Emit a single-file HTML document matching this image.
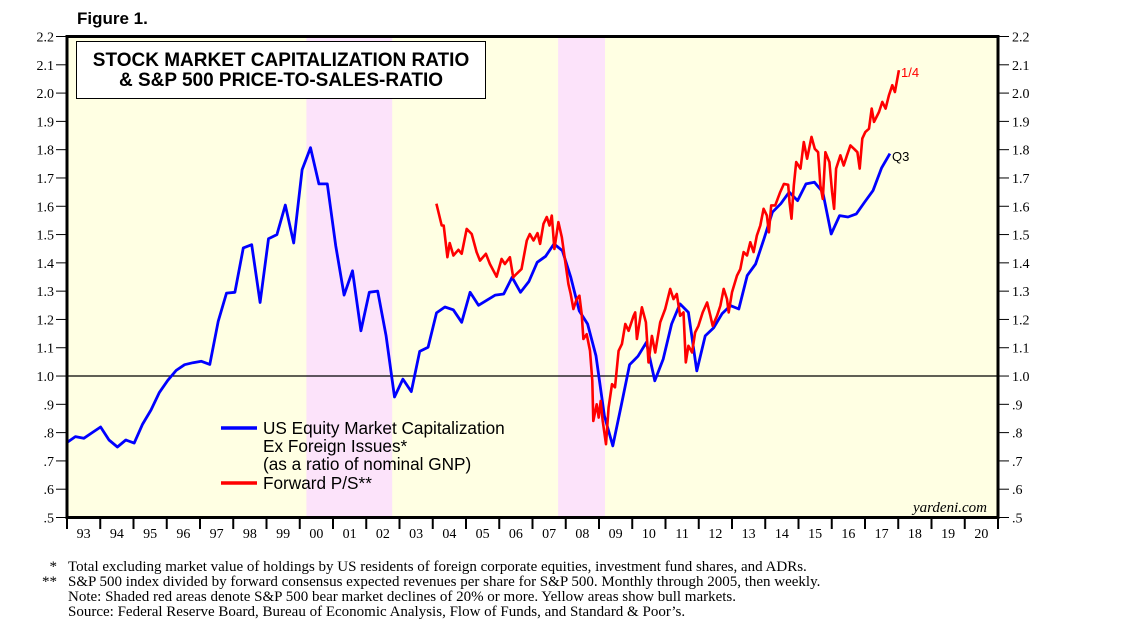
<!DOCTYPE html>
<html><head><meta charset="utf-8"><style>
body{margin:0;background:#fff;width:1138px;height:631px;overflow:hidden}
svg{display:block}
.ser{font-family:"Liberation Serif",serif}
.san{font-family:"Liberation Sans",sans-serif}
</style></head><body>
<svg id="chart" width="1138" height="631" viewBox="0 0 1138 631" xmlns="http://www.w3.org/2000/svg">
<text x="77" y="24" class="san" font-size="17" font-weight="bold">Figure 1.</text>
<g id="plot"></g>
<g id="axes"></g>
<g>
<rect x="76.5" y="41.5" width="409" height="57" fill="#fff" stroke="#000" stroke-width="1"/>
<text x="281" y="66" text-anchor="middle" class="san" font-size="19" font-weight="bold">STOCK MARKET CAPITALIZATION RATIO</text>
<text x="281" y="86" text-anchor="middle" class="san" font-size="19" font-weight="bold">&amp; S&amp;P 500 PRICE-TO-SALES-RATIO</text>
</g>
<g>
<line x1="221" y1="428" x2="257" y2="428" stroke="#0000ff" stroke-width="3.5"/>
<text x="263" y="434" class="san" font-size="17.2">US Equity Market Capitalization</text>
<text x="263" y="452" class="san" font-size="17.2">Ex Foreign Issues*</text>
<text x="263" y="470" class="san" font-size="17.2">(as a ratio of nominal GNP)</text>
<line x1="221" y1="483" x2="257" y2="483" stroke="#ff0000" stroke-width="3.5"/>
<text x="263" y="489" class="san" font-size="17.2">Forward P/S**</text>
</g>
<text x="901" y="77" class="san" font-size="13" fill="#ff0000">1/4</text>
<text x="892" y="161" class="san" font-size="13">Q3</text>
<text x="987" y="512" text-anchor="end" class="ser" font-size="15" font-style="italic">yardeni.com</text>
<g class="ser" font-size="15">
<text x="57" y="571" text-anchor="end">*</text>
<text x="57" y="586" text-anchor="end">**</text>
<text x="68" y="571">Total excluding market value of holdings by US residents of foreign corporate equities, investment fund shares, and ADRs.</text>
<text x="68" y="586">S&amp;P 500 index divided by forward consensus expected revenues per share for S&amp;P 500. Monthly through 2005, then weekly.</text>
<text x="68" y="601">Note: Shaded red areas denote S&amp;P 500 bear market declines of 20% or more. Yellow areas show bull markets.</text>
<text x="68" y="616">Source: Federal Reserve Board, Bureau of Economic Analysis, Flow of Funds, and Standard &amp; Poor’s.</text>
</g>
</svg>
<script>
const yTicks=[0.5,0.6,0.7,0.8,0.9,1.0,1.1,1.2,1.3,1.4,1.5,1.6,1.7,1.8,1.9,2.0,2.1,2.2];
const yTickLabels=[".5",".6",".7",".8",".9","1.0","1.1","1.2","1.3","1.4","1.5","1.6","1.7","1.8","1.9","2.0","2.1","2.2"];
const years=[1993,1994,1995,1996,1997,1998,1999,2000,2001,2002,2003,2004,2005,2006,2007,2008,2009,2010,2011,2012,2013,2014,2015,2016,2017,2018,2019,2020];
const yearLabels=["93","94","95","96","97","98","99","00","01","02","03","04","05","06","07","08","09","10","11","12","13","14","15","16","17","18","19","20"];
const bearStarts=[2000.2,2007.77];
const bearEnds=[2002.78,2009.18];
const blueStart=1993.0;
const blueEnd=2017.75;
const blueValues=[.765,.786,.78,.80,.82,.774,.749,.774,.763,.83,.88,.942,.985,1.02,1.04,1.047,1.052,1.041,1.193,1.293,1.296,1.453,1.464,1.26,1.485,1.50,1.604,1.47,1.729,1.807,1.679,1.679,1.461,1.286,1.372,1.16,1.296,1.30,1.142,.926,.989,.945,1.087,1.102,1.223,1.244,1.234,1.19,1.296,1.25,1.268,1.286,1.29,1.349,1.296,1.334,1.402,1.423,1.467,1.443,1.349,1.231,1.184,1.071,.859,.753,.895,1.04,1.07,1.119,.983,1.06,1.184,1.255,1.225,1.018,1.142,1.17,1.22,1.249,1.237,1.355,1.396,1.485,1.579,1.609,1.65,1.62,1.679,1.685,1.65,1.502,1.567,1.562,1.573,1.615,1.656,1.735,1.786];
const redDates=[2004.11,2004.27,2004.33,2004.44,2004.51,2004.62,2004.77,2004.87,2005.02,2005.17,2005.32,2005.42,2005.60,2005.72,2005.92,2006.07,2006.17,2006.32,2006.42,2006.52,2006.67,2006.83,2006.92,2007.03,2007.15,2007.23,2007.33,2007.43,2007.51,2007.58,2007.66,2007.78,2007.88,2007.98,2008.08,2008.15,2008.23,2008.33,2008.41,2008.48,2008.53,2008.63,2008.73,2008.80,2008.83,2008.93,2008.99,2009.05,2009.11,2009.21,2009.29,2009.39,2009.48,2009.59,2009.69,2009.79,2009.89,2010.04,2010.09,2010.14,2010.29,2010.41,2010.49,2010.59,2010.69,2010.84,2010.99,2011.14,2011.24,2011.34,2011.44,2011.54,2011.61,2011.69,2011.80,2011.89,2011.99,2012.12,2012.25,2012.35,2012.42,2012.55,2012.65,2012.75,2012.85,2012.90,2013.00,2013.15,2013.25,2013.35,2013.45,2013.55,2013.65,2013.75,2013.85,2013.95,2014.05,2014.11,2014.18,2014.30,2014.45,2014.56,2014.69,2014.73,2014.79,2014.86,2014.93,2015.06,2015.16,2015.26,2015.39,2015.49,2015.59,2015.66,2015.73,2015.81,2015.93,2016.01,2016.07,2016.13,2016.26,2016.36,2016.46,2016.56,2016.67,2016.77,2016.84,2016.92,2017.01,2017.12,2017.20,2017.27,2017.42,2017.52,2017.62,2017.72,2017.82,2017.90,2018.02];
const redValues=[1.609,1.532,1.532,1.42,1.47,1.426,1.446,1.432,1.52,1.502,1.438,1.408,1.432,1.396,1.351,1.414,1.396,1.42,1.349,1.361,1.378,1.479,1.502,1.479,1.505,1.467,1.538,1.562,1.532,1.567,1.449,1.544,1.491,1.408,1.325,1.29,1.237,1.272,1.284,1.219,1.131,1.148,1.089,.983,.841,.90,.853,.912,.841,.759,.889,.971,.96,1.089,1.113,1.184,1.16,1.213,1.225,1.131,1.243,1.19,1.048,1.142,1.083,1.19,1.237,1.308,1.272,1.29,1.213,1.225,1.048,1.107,1.083,1.154,1.177,1.225,1.26,1.213,1.177,1.213,1.249,1.308,1.272,1.225,1.296,1.355,1.378,1.438,1.426,1.473,1.438,1.497,1.532,1.591,1.567,1.508,1.603,1.603,1.65,1.679,1.676,1.615,1.556,1.673,1.756,1.733,1.827,1.768,1.845,1.803,1.791,1.673,1.626,1.791,1.756,1.65,1.591,1.733,1.78,1.744,1.78,1.815,1.803,1.791,1.733,1.839,1.862,1.874,1.945,1.898,1.933,1.969,1.945,1.992,2.028,2.004,2.081];

const X0=67,X1=998,Y0=517.5,Y1=36.5;
const x=d=>X0+(d-1993)*(X1-X0)/28;
const y=v=>Y0-(v-0.5)*(Y0-Y1)/1.7;
const NS="http://www.w3.org/2000/svg";
function mk(tag,attrs,parent){const e=document.createElementNS(NS,tag);for(const k in attrs)e.setAttribute(k,attrs[k]);parent.appendChild(e);return e;}
const plot=document.getElementById('plot'),axes=document.getElementById('axes');
const bg=mk('rect',{x:X0,y:Y1,width:X1-X0,height:Y0-Y1,fill:'#ffffe3'},plot);


bearStarts.forEach((s,i)=>{
 const r=mk('rect',{x:x(s),y:Y1,width:x(bearEnds[i])-x(s),height:Y0-Y1,fill:'#fce3fa'},plot);
 
 
});
const one=mk('line',{x1:X0,x2:X1,y1:y(1.0),y2:y(1.0),stroke:'#000','stroke-width':1.2},plot);


const step=(blueEnd-blueStart)/(blueValues.length-1);
const bp=blueValues.map((v,i)=>x(blueStart+i*step).toFixed(1)+','+y(v).toFixed(1)).join(' ');
const bl=mk('polyline',{points:bp,fill:'none',stroke:'#0000ff','stroke-width':2.8,'stroke-linejoin':'round'},plot);


const rp=redValues.map((v,i)=>x(redDates[i]).toFixed(1)+','+y(v).toFixed(1)).join(' ');
const rl=mk('polyline',{points:rp,fill:'none',stroke:'#ff0000','stroke-width':2.6,'stroke-linejoin':'round'},plot);


const fr=mk('rect',{x:X0,y:Y1,width:X1-X0,height:Y0-Y1,fill:'none',stroke:'#000','stroke-width':3},axes);


yTicks.forEach((v,i)=>{
 mk('line',{x1:56,x2:X0,y1:y(v),y2:y(v),stroke:'#000','stroke-width':1},axes);
 mk('line',{x1:X1,x2:1009,y1:y(v),y2:y(v),stroke:'#000','stroke-width':1},axes);
 const l=mk('text',{x:54,y:y(v)+5,'text-anchor':'end','font-size':14,class:'ser'},axes);
 l.textContent=yTickLabels[i];
 
 
 const r=mk('text',{x:1012,y:y(v)+5,'font-size':14,class:'ser'},axes);
 r.textContent=yTickLabels[i];
 
 
});
years.forEach((yr,i)=>{
 mk('line',{x1:x(yr),x2:x(yr),y1:Y0,y2:529,stroke:'#000','stroke-width':2},axes);
 const t=mk('text',{x:x(yr+0.5),y:538,'text-anchor':'middle','font-size':14,class:'ser'},axes);
 t.textContent=yearLabels[i];
 
 
});
mk('line',{x1:X1,x2:X1,y1:Y0,y2:529,stroke:'#000','stroke-width':2},axes);
</script>
</body></html>
